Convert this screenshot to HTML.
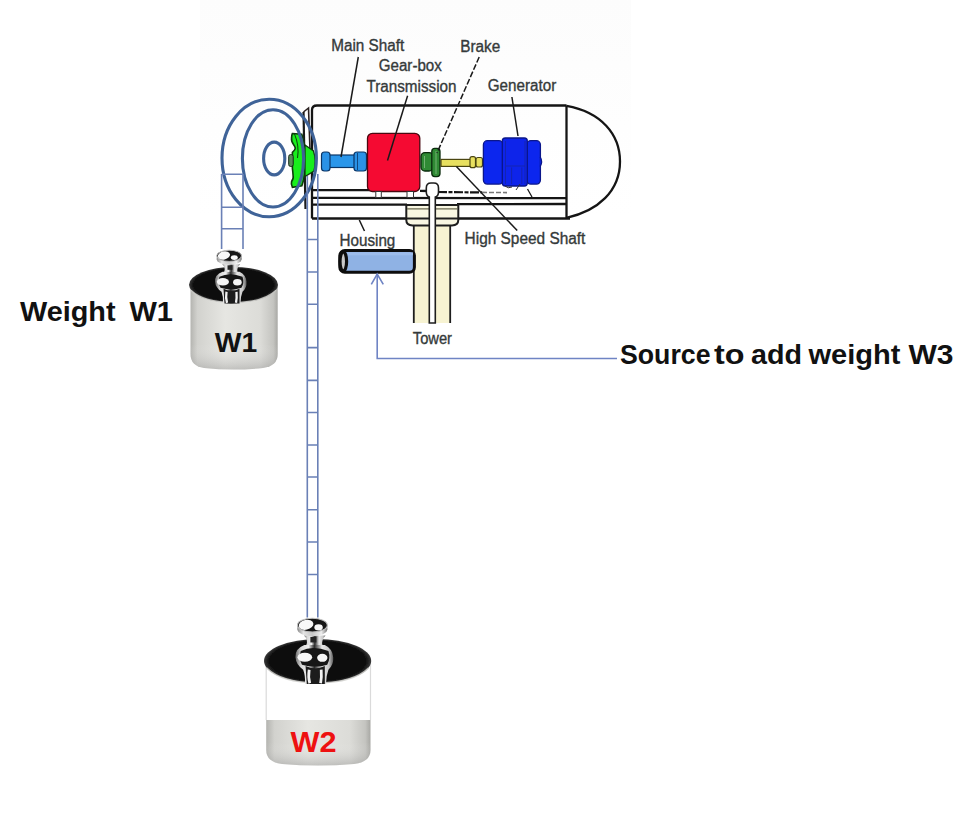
<!DOCTYPE html>
<html><head><meta charset="utf-8">
<style>
html,body{margin:0;padding:0;background:#fff;width:974px;height:825px;overflow:hidden}
svg{position:absolute;left:0;top:0;display:block}
text{font-family:"Liberation Sans",sans-serif}
</style></head><body>
<svg width="974" height="825" viewBox="0 0 974 825">
<defs>
  <linearGradient id="bgfade" x1="0" x2="0" y1="0" y2="1">
    <stop offset="0" stop-color="#fcfcfc"/>
    <stop offset="0.35" stop-color="#fefefe"/>
    <stop offset="0.6" stop-color="#ffffff"/>
  </linearGradient>
  <linearGradient id="bodyH" x1="0" x2="1" y1="0" y2="0">
    <stop offset="0" stop-color="#b4b4b0"/>
    <stop offset="0.08" stop-color="#d2d2ce"/>
    <stop offset="0.4" stop-color="#e6e6e2"/>
    <stop offset="0.8" stop-color="#dcdcd8"/>
    <stop offset="0.95" stop-color="#c4c4c0"/>
    <stop offset="1" stop-color="#a8a8a4"/>
  </linearGradient>
  <linearGradient id="bodyV" x1="0" x2="0" y1="0" y2="1">
    <stop offset="0" stop-color="#ffffff" stop-opacity="0"/>
    <stop offset="0.7" stop-color="#ffffff" stop-opacity="0"/>
    <stop offset="1" stop-color="#808080" stop-opacity="0.35"/>
  </linearGradient>
  <radialGradient id="knob" cx="0.45" cy="0.4" r="0.6">
    <stop offset="0" stop-color="#ffffff"/>
    <stop offset="0.35" stop-color="#c8c8c8"/>
    <stop offset="0.7" stop-color="#3a3a3a"/>
    <stop offset="1" stop-color="#1a1a1a"/>
  </radialGradient>
  <radialGradient id="topE" cx="0.5" cy="0.5" r="0.5">
    <stop offset="0" stop-color="#1c1c1c"/>
    <stop offset="0.8" stop-color="#141414"/>
    <stop offset="1" stop-color="#6a6a6a"/>
  </radialGradient>
  <linearGradient id="bodyV2" x1="0" x2="0" y1="0" y2="1">
    <stop offset="0" stop-color="#ffffff" stop-opacity="0"/>
    <stop offset="0.5" stop-color="#ffffff" stop-opacity="0"/>
    <stop offset="1" stop-color="#808080" stop-opacity="0.35"/>
  </linearGradient>
  <radialGradient id="knobTop" cx="0.5" cy="0.5" r="0.5">
    <stop offset="0" stop-color="#121212"/>
    <stop offset="0.72" stop-color="#161616"/>
    <stop offset="0.88" stop-color="#7a7a7a"/>
    <stop offset="1" stop-color="#c4c4c4"/>
  </radialGradient>
  <radialGradient id="bulb" cx="0.5" cy="0.55" r="0.5">
    <stop offset="0" stop-color="#0e0e0e"/>
    <stop offset="0.6" stop-color="#1a1a1a"/>
    <stop offset="0.85" stop-color="#6a6a6a"/>
    <stop offset="1" stop-color="#b8b8b8"/>
  </radialGradient>
  <linearGradient id="neck" x1="0" x2="1" y1="0" y2="0">
    <stop offset="0" stop-color="#8a8a8a"/>
    <stop offset="0.25" stop-color="#e6e6e6"/>
    <stop offset="0.5" stop-color="#3a3a3a"/>
    <stop offset="0.75" stop-color="#e6e6e6"/>
    <stop offset="1" stop-color="#8a8a8a"/>
  </linearGradient>
  <radialGradient id="rimL" cx="0.5" cy="0.5" r="0.5">
    <stop offset="0" stop-color="#0a0a0a"/>
    <stop offset="0.9" stop-color="#0e0e0e"/>
    <stop offset="1" stop-color="#3a3a3a"/>
  </radialGradient>
  <filter id="soft" x="-10%" y="-10%" width="120%" height="120%"><feGaussianBlur stdDeviation="0.45"/></filter>
  <linearGradient id="silverH" x1="0" x2="1" y1="0" y2="0">
    <stop offset="0" stop-color="#6a6a6a"/>
    <stop offset="0.15" stop-color="#d8d8d8"/>
    <stop offset="0.35" stop-color="#f0f0f0"/>
    <stop offset="0.5" stop-color="#2a2a2a"/>
    <stop offset="0.7" stop-color="#e8e8e8"/>
    <stop offset="0.88" stop-color="#c8c8c8"/>
    <stop offset="1" stop-color="#5a5a5a"/>
  </linearGradient>
  <linearGradient id="silverBand" x1="0" x2="1" y1="0" y2="0">
    <stop offset="0" stop-color="#8a8a8a"/>
    <stop offset="0.2" stop-color="#e4e4e4"/>
    <stop offset="0.5" stop-color="#c8c8c8"/>
    <stop offset="0.8" stop-color="#eeeeee"/>
    <stop offset="1" stop-color="#7a7a7a"/>
  </linearGradient>
  <g id="wtop">
    <ellipse cx="0" cy="0" rx="44.5" ry="17.8" fill="url(#rimL)"/>
    <path d="M-42.5,5.5 Q-30,17.6 0,17.8 Q30,17.6 42.5,5.5" fill="none" stroke="#d0d0cc" stroke-width="1.2" opacity="0.85"/>
    <!-- lower bulb / vase -->
    <path d="M-11,-13 Q-19,-10 -18.4,-3 Q-18,3 -12,7 Q-10,12 -10.5,18.6 L7,18.6 Q7,12 9,7 Q13.5,3 13,-3 Q12.5,-10 6,-13 Z" fill="url(#silverH)"/>
    <path d="M-14,-8 Q-4,-13 9,-8 Q11,-2 8,3 Q-2,6 -13,3 Q-16,-2 -14,-8 Z" fill="#141414"/>
    <path d="M-10,4 Q-2,8 6,4 L6,18.6 L-9,18.6 Z" fill="#1a1a1a"/>
    <path d="M-7,7 Q-8,13 -6.5,18 M3,7 Q3.5,13 2.5,18" stroke="#f2f2f2" stroke-width="2.3" fill="none"/>
    <ellipse cx="-10.6" cy="-3" rx="6.1" ry="3.7" fill="#f6f6f6"/>
    <ellipse cx="3.9" cy="-2.6" rx="4.3" ry="3.3" fill="#f6f6f6"/>
    <!-- neck -->
    <path d="M-11.3,-20.6 L6.6,-20.6 Q3,-17 4,-12.9 L-9.5,-12.9 Q-7.5,-17 -11.3,-20.6 Z" fill="url(#silverH)"/>
    <rect x="-6" y="-19.5" width="5" height="4.5" fill="#252525"/>
    <!-- knob top disk -->
    <ellipse cx="-4.35" cy="-25.6" rx="12.4" ry="5.6" fill="url(#silverBand)"/>
    <rect x="-16.75" y="-28.6" width="24.8" height="3" fill="url(#silverBand)"/>
    <ellipse cx="-4.35" cy="-29" rx="12.4" ry="5.6" fill="#151515" stroke="#c0c0c0" stroke-width="0.9"/>
    <ellipse cx="-9.6" cy="-29.3" rx="6.2" ry="4" fill="#f8f8f8" transform="rotate(-12 -9.6 -29.3)"/>
    <ellipse cx="0.8" cy="-27.2" rx="3.5" ry="2.45" fill="#f8f8f8"/>
  </g>
</defs>

<!-- faint image background -->
<rect x="200" y="0" width="431" height="362" fill="url(#bgfade)"/>

<!-- ===== Nacelle ===== -->
<g fill="none" stroke="#151515" stroke-width="2.3">
  <path d="M312,218.5 L312,110 Q312,105.5 317,105.5 L566.5,105.5"/>
  <path d="M566.5,105.5 L566.5,218"/>
  <path d="M566.5,105.8 C601,112 620,134 620,161.5 C620,191 598,211 566.5,217.8"/>
  <path d="M312,218.5 L570,218.5"/>
  <path d="M313,190.2 L370,190.2 M420,190.8 L430,191"/>
  <path d="M438,192 L482,192.4" stroke-dasharray="9,1.5,4,1.5" stroke-width="2.2"/>
  <path d="M482,192.4 L507,192.6" stroke="#777" stroke-width="1.6" stroke-dasharray="5,2"/>
  <path d="M527.5,189 L532,197" stroke-width="1.3"/>
  <path d="M313,197.8 L566,198.2"/>
  <path d="M313,204.6 L407,204.6 M457,204.2 L566,204"/>
</g>

<!-- tower -->
<g>
  <rect x="413.4" y="225" width="37" height="98" fill="#f7f3d2"/>
  <path d="M406.3,205 L458.3,205 L458.3,220 Q458.3,225.4 452,225.4 L412.5,225.4 Q406.3,225.4 406.3,220 Z" fill="#f9f7e2" stroke="#1e1e1e" stroke-width="2"/>
  <path d="M407,208.8 L457.5,208.8" stroke="#6a6a50" stroke-width="1.3"/>
  <path d="M406.3,218.6 L458.3,218.6" stroke="#1e1e1e" stroke-width="2"/>
  <path d="M413.8,225.4 L413.8,323 M450.2,225.4 L450.2,323" stroke="#1e1e1e" stroke-width="1.8" fill="none"/>
  <path d="M429.3,323 L429.3,197 Q426.3,196 426.3,192 L426.3,188 Q426.3,183 431,183 L433.8,183 Q438.5,183 438.5,188 L438.5,192 Q438.5,196 435.3,197 L435.3,323 Z" fill="#fff" stroke="#1e1e1e" stroke-width="1.6"/>
</g>

<!-- main shaft (blue) -->
<g stroke="#0a3566" stroke-width="1.2">
  <rect x="325" y="155" width="31" height="12.5" fill="#2a96ea"/>
  <rect x="321.5" y="152" width="8.5" height="19" rx="3" fill="#2a92e6"/>
  <rect x="354" y="152" width="12.5" height="19" rx="3" fill="#2a92e6"/>
  <path d="M357.5,153 L357.5,170" stroke-width="0.8"/>
</g>
<!-- gearbox red -->
<rect x="367.5" y="133.3" width="52.3" height="58.2" rx="5" fill="#f50a32" stroke="#4a0810" stroke-width="1.3"/>
<rect x="375.8" y="191.5" width="5.5" height="6" fill="#fff" stroke="#333" stroke-width="1"/>
<rect x="407" y="191.5" width="6.5" height="6" fill="#fff" stroke="#333" stroke-width="1"/>
<!-- brake green -->
<g stroke="#0a2a0c" stroke-width="1.3">
  <rect x="421" y="152.6" width="12" height="18.4" rx="4" fill="#2f8a34"/>
  <rect x="431.8" y="148.4" width="8.2" height="28.2" rx="3" fill="#2f8a34"/>
  <path d="M424.5,156 L424.5,168 M436,151 L436,174" stroke="#7ab87a" stroke-width="0.9"/>
</g>
<!-- high speed shaft yellow -->
<g stroke="#4a4510" stroke-width="1.2">
  <rect x="441" y="159.4" width="30" height="7" fill="#e8e060"/>
  <rect x="470" y="156.7" width="5.5" height="11" rx="2" fill="#e8e060"/>
  <rect x="476" y="157.5" width="6.5" height="9.5" rx="2" fill="#e8e060"/>
</g>
<!-- generator blue -->
<g stroke="#0a168a" stroke-width="1.3">
  <rect x="483.4" y="140.7" width="19.5" height="43.4" rx="4" fill="#0c26ee"/>
  <rect x="526.8" y="140.7" width="13.6" height="43.4" rx="4" fill="#0c26ee"/>
  <path d="M540.2,157 Q543,161.5 540.2,166.5" fill="#0c26ee"/>
  <rect x="502.3" y="138" width="25" height="48" rx="3" fill="#0e24ea"/>
  <path d="M505.5,141 L505.5,184 M525,141 L525,184 M505.5,166 L525,166 M511.6,167.5 L511.6,184 M521.8,167.5 L521.8,184" fill="none" stroke="#1424b0" stroke-width="1"/>
  <path d="M505,186 Q508,189 512,187 M516,190 L520,184" fill="none" stroke="#333" stroke-width="1"/>
</g>

<!-- nacelle front flange dark line -->
<path d="M303.5,112 L305.5,209" stroke="#1a1a1a" stroke-width="2.2" fill="none"/>
<path d="M303.5,112 L308.5,108 L310,150" stroke="#2a2020" stroke-width="1.6" fill="none"/>
<!-- green hub -->
<g>
  <path d="M292.4,133.5 L301.8,134.2 Q305.5,145 305.5,160 Q305.5,176 301.8,185.9 L292.4,187.4 Q290.8,184 291.6,181.5 Q293.8,178 293.1,175.7 Q292.8,171 292.4,168.4 L292.4,152.4 Q295.3,150 295.3,148 Q294.5,146 293.8,145.1 Q291,141 291.6,137.9 Q291.6,135 292.4,133.5 Z" fill="#18ee1c" stroke="#0e3a0c" stroke-width="1.6"/>
  <path d="M294.5,134 Q299.5,146 297.5,158" stroke="#0e3a0c" stroke-width="1" fill="none"/>
  <path d="M305,145 L313.5,151 Q316.5,160 314,171 L305,176.5 Z" fill="#18ee1c" stroke="#0e3a0c" stroke-width="1.3"/>
  <rect x="288.7" y="154.5" width="4.5" height="12" rx="2" fill="#5a8a5a" stroke="#1a2a1a" stroke-width="1"/>
</g>

<!-- leader lines -->
<g stroke="#1a1a1a" stroke-width="1.5" fill="none">
  <path d="M358.3,57 L341,157"/>
  <path d="M407.6,95.7 L387.5,160.5"/>
  <path d="M479.2,57 L437,153" stroke-dasharray="6,2"/>
  <path d="M511.9,97 L518,136"/>
  <path d="M456.4,166.6 L517.2,230.6"/>
  <path d="M359.3,220 L364.5,231"/>
</g>

<!-- labels -->
<g fill="#353a3a" stroke="#353a3a" stroke-width="0.35" font-size="16">
  <text x="331.2" y="51" textLength="73" lengthAdjust="spacingAndGlyphs">Main Shaft</text>
  <text x="378.8" y="71" textLength="63" lengthAdjust="spacingAndGlyphs">Gear-box</text>
  <text x="366.5" y="92" textLength="90" lengthAdjust="spacingAndGlyphs">Transmission</text>
  <text x="460.2" y="51.9" textLength="40" lengthAdjust="spacingAndGlyphs">Brake</text>
  <text x="487.8" y="91.4" textLength="68.4" lengthAdjust="spacingAndGlyphs">Generator</text>
  <text x="339.6" y="245.5" textLength="55.7" lengthAdjust="spacingAndGlyphs">Housing</text>
  <text x="464.6" y="243.8" textLength="120.8" lengthAdjust="spacingAndGlyphs">High Speed Shaft</text>
  <text x="412.8" y="344" textLength="39.2" lengthAdjust="spacingAndGlyphs">Tower</text>
</g>

<!-- ===== pulley ellipses ===== -->
<g fill="none" stroke="#3f6398" stroke-width="3.1">
  <ellipse cx="269.2" cy="158" rx="47.2" ry="58.8"/>
  <ellipse cx="273" cy="158.4" rx="30.6" ry="48.6"/>
  <ellipse cx="274.2" cy="158.5" rx="10.6" ry="16.4"/>
</g>

<!-- ===== ropes ===== -->
<g stroke="#6a80b6" stroke-width="1.6" fill="none">
  <path d="M221.6,174 L221.6,249 M243,174 L243,249"/>
  <path d="M221.6,174.3 L243,174.3 M221.6,207.3 L243,207.3 M221.6,228.7 L243,228.7"/>
  <path d="M307.3,176 L307.3,617.5 M317.8,174 L317.8,617.5"/>
  <path d="M307.3,239.5 H317.8 M307.3,272 H317.8 M307.3,304.3 H317.8 M307.3,347.6 H317.8 M307.3,380.4 H317.8 M307.3,412.5 H317.8 M307.3,445 H317.8 M307.3,477 H317.8 M307.3,509.7 H317.8 M307.3,542 H317.8 M307.3,574.5 H317.8"/>
</g>

<!-- ===== W3 source cylinder ===== -->
<g>
  <rect x="339.8" y="250.6" width="74.6" height="21.6" rx="5" fill="#8fb2e4" stroke="#0d0d0d" stroke-width="3"/>
  <rect x="347" y="252.3" width="66" height="3" fill="#9dbcea"/>
  <ellipse cx="343.3" cy="261.4" rx="3.3" ry="9.6" fill="#c8c8c8" stroke="#0d0d0d" stroke-width="3.2"/>
</g>
<!-- arrow -->
<g stroke="#6f84c4" stroke-width="1.6" fill="none">
  <path d="M377.2,274 L377.2,358.5 L617,358.5"/>
  <path d="M371.3,284.4 L377.2,274 L383.3,284.4"/>
</g>

<!-- ===== Weight W1 ===== -->
<g>
  <path d="M190.5,285 L190.5,354 Q190.5,366 204,368 Q233.5,371 263,368 Q277.7,366 277.7,354 L277.7,285 Z" fill="url(#bodyH)"/>
  <path d="M190.5,285 L190.5,354 Q190.5,366 204,368 Q233.5,371 263,368 Q277.7,366 277.7,354 L277.7,285 Z" fill="url(#bodyV)"/>
  <use href="#wtop" transform="translate(233.5,284.8)" filter="url(#soft)"/>
  <text x="214.8" y="352" font-size="27" font-weight="bold" fill="#111" textLength="42.4" lengthAdjust="spacingAndGlyphs">W1</text>
</g>

<!-- ===== Weight W2 ===== -->
<g>
  <path d="M266.2,661 L266.2,720 L370.5,720 L370.5,661 Z" fill="#ffffff"/>
  <path d="M266.2,661 L266.2,720 M370.5,661 L370.5,720" stroke="#dadada" stroke-width="1.2"/>
  <path d="M266.2,720 L266.2,750 Q266.2,762 282,764 Q318,767 354,764 Q370.5,762 370.5,750 L370.5,720 Z" fill="url(#bodyH)"/>
  <path d="M266.2,720 L266.2,750 Q266.2,762 282,764 Q318,767 354,764 Q370.5,762 370.5,750 L370.5,720 Z" fill="url(#bodyV2)"/>
  <use href="#wtop" transform="translate(317.6,661) scale(1.204,1.236)" filter="url(#soft)"/>
  <text x="290.5" y="751.8" font-size="29" font-weight="bold" fill="#ee1111" textLength="46" lengthAdjust="spacingAndGlyphs">W2</text>
</g>

<!-- ===== big labels ===== -->
<g font-size="28" font-weight="bold" fill="#111">
  <text x="20" y="321.3" textLength="95.5" lengthAdjust="spacingAndGlyphs">Weight</text>
  <text x="129.5" y="321.3" textLength="43.5" lengthAdjust="spacingAndGlyphs">W1</text>
</g>
<g font-size="27.7" font-weight="bold" fill="#111">
  <text x="620" y="364.2" textLength="90.5" lengthAdjust="spacingAndGlyphs">Source</text>
  <text x="714" y="364.2" textLength="30.5" lengthAdjust="spacingAndGlyphs">to</text>
  <text x="751" y="364.2" textLength="51" lengthAdjust="spacingAndGlyphs">add</text>
  <text x="808.5" y="364.2" textLength="92" lengthAdjust="spacingAndGlyphs">weight</text>
  <text x="908.5" y="364.2" textLength="45" lengthAdjust="spacingAndGlyphs">W3</text>
</g>

</svg>
</body></html>
